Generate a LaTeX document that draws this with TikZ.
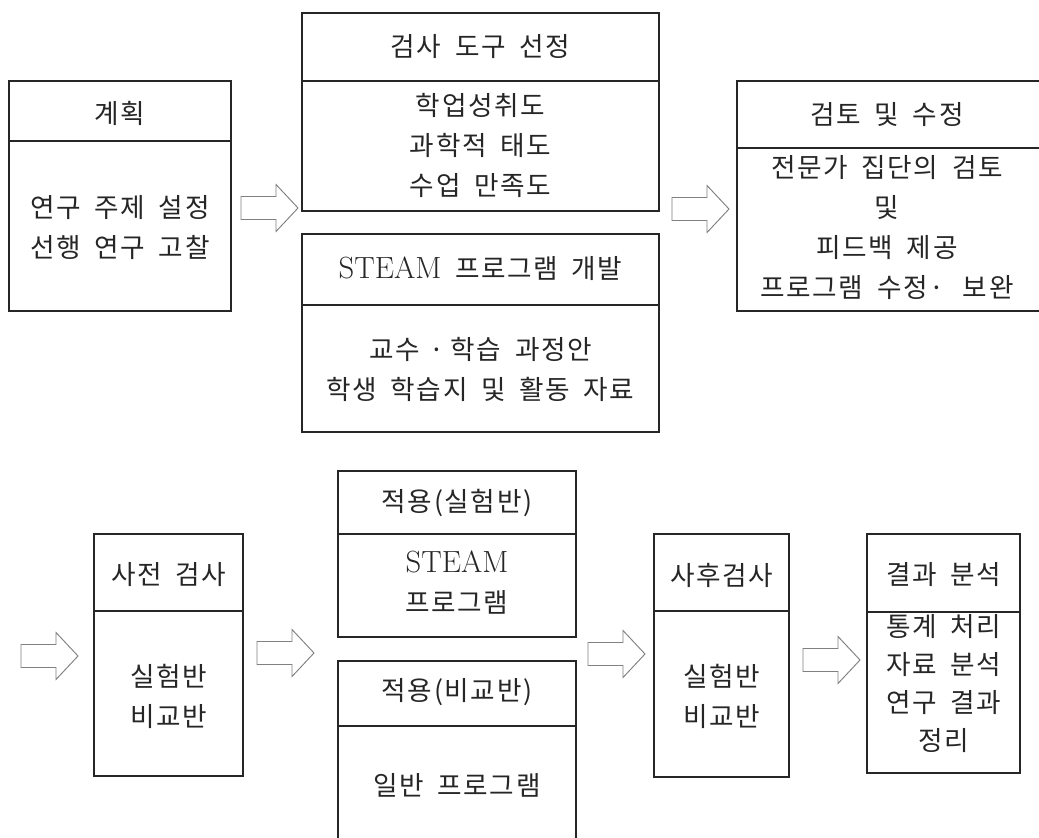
\documentclass[tikz,border=0pt]{standalone}
\usepackage{fontspec}
\newfontfamily\kr[LetterSpace=6,WordSpace=1.8]{Noto Sans CJK KR}
\usetikzlibrary{fit}
\begin{document}
\begin{tikzpicture}[x=0.75pt,y=-0.75pt,
  box/.style={draw=black!85, line width=0.8pt, inner sep=0pt},
  divline/.style={draw=black!85, line width=0.8pt},
  txt/.style={font=\kr\fontsize{20}{30}\selectfont, text=black!85, align=center, inner sep=0pt},
  arrowline/.style={draw=black!50, line width=0.7pt, fill=white},
  blockarrow/.pic={\path[arrowline] (-57,-11.5) -- (-22,-11.5) -- (-22,-23.5) -- (0,0) -- (-22,23.5) -- (-22,11.5) -- (-57,11.5) -- cycle;}
]
\newcommand{\steam}{{\rmfamily\fontsize{23}{30}\selectfont STEAM}}
\useasboundingbox (0,0) rectangle (1039,838);

% ---- top row ----
\node[box, fit={(9,81) (231,311)}] (plan) {};
\draw[divline] (plan.west |- 0,141) -- (plan.east |- 0,141);
\node[txt] (planT) at (120,113) {계획};
\node[txt] (planB) at (120,227.5) {연구 주제 설정\\선행 연구 고찰};

\node[box, fit={(302,13) (659,211)}] (tool) {};
\draw[divline] (tool.west |- 0,81) -- (tool.east |- 0,81);
\node[txt] (toolT) at (480.5,47) {검사 도구 선정};
\node[txt] (toolB) at (480.5,145) {학업성취도\\과학적 태도\\수업 만족도};

\node[box, fit={(302,234) (659,432)}] (dev) {};
\draw[divline] (dev.west |- 0,305) -- (dev.east |- 0,305);
\node[txt] (devT) at (480.5,269) {\steam{} 프로그램 개발};
\node[txt] (devB) at (480.5,369) {교수\hspace{7pt}·\hspace{5pt}학습 과정안\\학생 학습지 및 활동 자료};

\node[box, fit={(737,81) (1045,311)}] (rev) {};
\draw[divline] (rev.west |- 0,148) -- (rev.east |- 0,148);
\node[txt] (revT) at (887,115) {검토 및 수정};
\node[txt] (revB) at (887,227.5) {전문가 집단의 검토\\및\\피드백 제공\\프로그램 수정·\hspace{14pt}보완};

\pic at (298,208) {blockarrow};
\pic at (729,209) {blockarrow};

% ---- bottom row ----
\node[box, fit={(94,534) (243,776)}] (pre) {};
\draw[divline] (pre.west |- 0,611) -- (pre.east |- 0,611);
\node[txt] (preT) at (168.5,575) {사전 검사};
\node[txt] (preB) at (168.5,696) {실험반\\비교반};

\node[box, fit={(338,471) (576,637)}] (appE) {};
\draw[divline] (appE.west |- 0,534) -- (appE.east |- 0,534);
\node[txt] (appET) at (457,503) {적용(실험반)};
\node[txt] (appEB) at (457,583) {\steam\\프로그램};

\node[box, fit={(338,661) (576,850)}] (appC) {};
\draw[divline] (appC.west |- 0,726) -- (appC.east |- 0,726);
\node[txt] (appCT) at (457,692) {적용(비교반)};
\node[txt] (appCB) at (457,785) {일반 프로그램};

\node[box, fit={(654,534) (789,777)}] (post) {};
\draw[divline] (post.west |- 0,611) -- (post.east |- 0,611);
\node[txt] (postT) at (721.5,575) {사후검사};
\node[txt] (postB) at (721.5,696.5) {실험반\\비교반};

\node[box, fit={(867,534) (1020,773)}] (res) {};
\draw[divline] (res.west |- 0,612) -- (res.east |- 0,612);
\node[txt] (resT) at (943.5,575) {결과 분석};
\node[txt, font=\kr\fontsize{20}{28.5}\selectfont] (resB) at (943.5,684) {통계 처리\\자료 분석\\연구 결과\\정리};

\pic at (78,656) {blockarrow};
\pic at (314,653) {blockarrow};
\pic at (645,654) {blockarrow};
\pic at (860,660) {blockarrow};
\end{tikzpicture}
\end{document}
